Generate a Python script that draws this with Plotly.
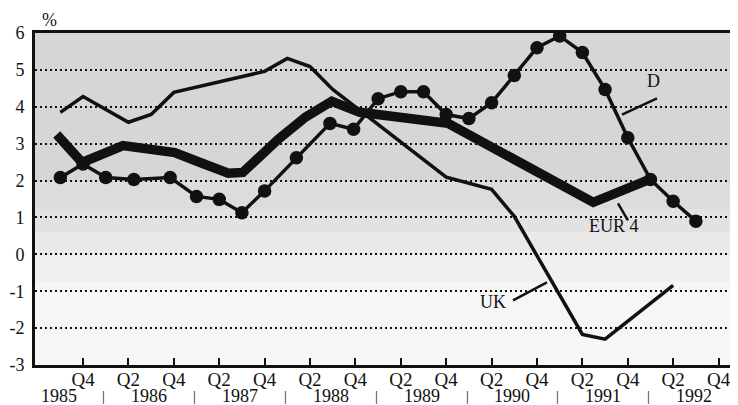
import plotly.graph_objects as go

# ---- data (decimal year positions, values in %) ----
d_x = [1985.5, 1985.75, 1986.0, 1986.31, 1986.71, 1987.0, 1987.25, 1987.5, 1987.75,
       1988.1, 1988.47, 1988.73, 1989.0, 1989.25, 1989.5, 1989.75, 1990.0, 1990.25,
       1990.5, 1990.75, 1991.0, 1991.25, 1991.5, 1991.75, 1992.0, 1992.25, 1992.5]
d_values = [2.08, 2.45, 2.08, 2.03, 2.08, 1.57, 1.49, 1.13, 1.72,
            2.62, 3.55, 3.39, 4.22, 4.41, 4.41, 3.79, 3.68, 4.11,
            4.85, 5.60, 5.92, 5.47, 4.47, 3.16, 2.03, 1.44, 0.90]

eur_x = [1985.46, 1985.74, 1986.19, 1986.76, 1987.04, 1987.35, 1987.51, 1987.9,
         1988.2, 1988.49, 1988.8, 1989.77, 1991.37, 1991.99]
eur_values = [3.25, 2.49, 2.95, 2.76, 2.49, 2.2, 2.22, 3.12,
              3.72, 4.15, 3.85, 3.55, 1.41, 2.03]

uk_x = [1985.5, 1985.75, 1986.25, 1986.5, 1986.75, 1987.75, 1988.0, 1988.25,
        1988.5, 1989.75, 1990.25, 1990.5, 1991.25, 1991.5, 1992.25]
uk_values = [3.85, 4.28, 3.58, 3.79, 4.39, 4.96, 5.31, 5.09,
             4.47, 2.09, 1.76, 1.03, -2.17, -2.30, -0.84]

tick_vals = [1985.75, 1986.25, 1986.75, 1987.25, 1987.75, 1988.25, 1988.75, 1989.25,
             1989.75, 1990.25, 1990.75, 1991.25, 1991.75, 1992.25, 1992.75]
tick_text = ["Q4", "Q2", "Q4", "Q2", "Q4", "Q2", "Q4", "Q2",
             "Q4", "Q2", "Q4", "Q2", "Q4", "Q2", "Q4"]
years = [1985, 1986, 1987, 1988, 1989, 1990, 1991, 1992]
y_ticks = [6, 5, 4, 3, 2, 1, 0, -1, -2, -3]
y_tick_text = ["6", "5", "4", "3", "2", "1", "0", "-1", "-2", "-3"]

FONT = "Liberation Serif"
BLACK = "#111111"

fig = go.Figure()
fig.add_trace(go.Scatter(x=uk_x, y=uk_values, mode="lines",
                         line=dict(color=BLACK, width=3.5), name="UK"))
fig.add_trace(go.Scatter(x=eur_x, y=eur_values, mode="lines",
                         line=dict(color=BLACK, width=9.5), name="EUR 4"))
fig.add_trace(go.Scatter(x=d_x, y=d_values, mode="lines+markers",
                         line=dict(color=BLACK, width=3.5),
                         marker=dict(color=BLACK, size=13.5), name="D"))

# background stipple approximation (soft vertical gradient)
shapes = []
bands = [(0.0, 0.25, "#f6f6f6"), (0.25, 0.33, "#f0f0f0"), (0.33, 0.40, "#e9e9e9"),
         (0.40, 0.47, "#e2e2e2"), (0.47, 0.55, "#dcdcdc"), (0.55, 1.0, "#d6d6d6")]
for y0, y1, c in bands:
    shapes.append(dict(type="rect", xref="x domain", yref="y domain", x0=0, x1=1,
                       y0=y0, y1=y1, fillcolor=c, line=dict(width=0), layer="below"))
# leader lines for labels
leaders = [((1991.686, 3.79), (1992.072, 4.23)),
           ((1991.642, 1.38), (1991.752, 0.92)),
           ((1990.486, -1.25), (1990.86, -0.76))]
for (x0, y0), (x1, y1) in leaders:
    shapes.append(dict(type="line", xref="x", yref="y", x0=x0, y0=y0, x1=x1, y1=y1,
                       line=dict(color=BLACK, width=2.5)))

annotations = [
    dict(x=1992.03, y=4.69, text="D", showarrow=False, xref="x", yref="y",
         font=dict(family=FONT, size=18, color=BLACK)),
    dict(x=1991.6, y=0.76, text="EUR 4", showarrow=False, xref="x", yref="y",
         font=dict(family=FONT, size=18, color=BLACK)),
    dict(x=1990.265, y=-1.30, text="UK", showarrow=False, xref="x", yref="y",
         font=dict(family=FONT, size=18, color=BLACK)),
    dict(x=0.021, y=1.039, text="%", showarrow=False, xref="paper", yref="paper",
         xanchor="center", yanchor="middle",
         font=dict(family=FONT, size=18, color=BLACK)),
]
for yr in years:
    annotations.append(dict(x=yr + 0.48, y=-0.0934, text=str(yr), showarrow=False,
                            xref="x", yref="paper", xanchor="center", yanchor="middle",
                            borderpad=0, font=dict(family=FONT, size=18, color=BLACK)))
for yr in years[1:]:
    annotations.append(dict(x=yr - 0.02, y=-0.0934, text="|", showarrow=False,
                            xref="x", yref="paper", xanchor="center", yanchor="middle",
                            borderpad=0, font=dict(family=FONT, size=14, color=BLACK)))

# page body has an 8px margin: figure is sized to fill the 738x405 window exactly
fig.update_layout(
    template="none",
    width=730, height=397,
    margin=dict(l=27, r=0, t=25, b=40, autoexpand=False),
    paper_bgcolor="white", plot_bgcolor="#f6f6f6",
    showlegend=False,
    shapes=shapes, annotations=annotations,
    font=dict(family=FONT, size=19, color=BLACK),
)
fig.update_xaxes(range=[1985.221, 1992.964], showline=True, linewidth=3, linecolor=BLACK,
                 mirror=True, ticks="inside", ticklen=7, tickwidth=2, tickcolor=BLACK,
                 tickvals=tick_vals, ticktext=tick_text, showgrid=False, zeroline=False,
                 automargin=False, ticklabelstandoff=-5,
                 tickfont=dict(family=FONT, size=19, color=BLACK))
fig.update_yaxes(range=[-3, 6], tickvals=y_ticks, ticktext=y_tick_text,
                 showline=True, linewidth=3, linecolor=BLACK,
                 ticks="", showgrid=True, gridcolor=BLACK, gridwidth=2, griddash="2px,3px",
                 zeroline=False, ticklabelstandoff=4, automargin=False,
                 tickfont=dict(family=FONT, size=18, color=BLACK))

fig.write_html("out.html")
